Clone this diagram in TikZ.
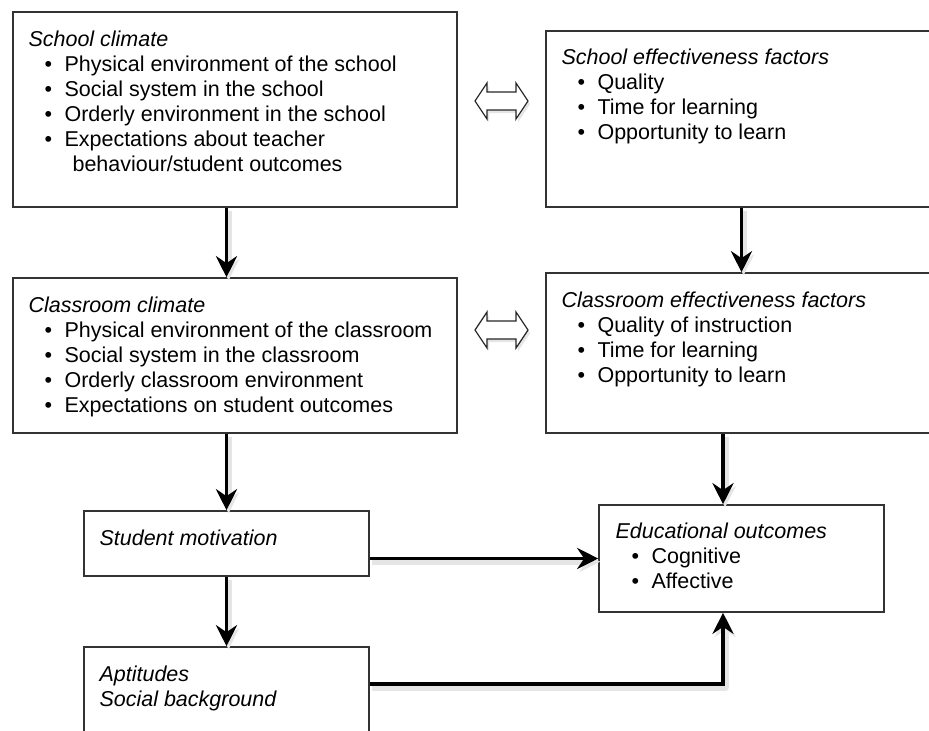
\documentclass[tikz,border=0pt]{standalone}
\usepackage{fontspec}
\setmainfont{Liberation Sans}
\usetikzlibrary{arrows.meta,calc}

%% one unit of the picture is one pixel of the layout
\newlength\px
\setlength\px{0.02cm}
\newcommand\bodyfont{\fontsize{12.23pt}{14.23pt}\selectfont}
\newcommand\ttl[1]{\rule{0pt}{17.2\px}\textit{#1}}
\newcommand\itm[1]{\hspace*{16\px}\makebox[20\px][l]{\textbullet}#1}

\tikzset{
  box/.style={draw=black!80, line width=0.9pt, fill=white},
  txt/.style={anchor=north west, inner sep=0pt, align=left, font=\bodyfont},
  tip/.style={-{Stealth[length=12pt, width=12pt, inset=4pt]}},
  flow/.style={line width=2.1pt, tip,
    preaction={draw=black!10, line width=4pt, line join=round, tip,
      transform canvas={shift={(1.2pt,-1.8pt)}}}},
  dblline/.style={draw=black!85, line width=0.7pt, fill=white, line join=miter,
    preaction={fill=black!10, transform canvas={shift={(1.2pt,-1.8pt)}}}},
  dblarr/.pic={
    \draw[dblline] (-26.5,0) -- (-14.5,-18) -- (-14.5,-9) -- (14.5,-9) -- (14.5,-18)
      -- (26.5,0) -- (14.5,18) -- (14.5,9) -- (-14.5,9) -- (-14.5,18) -- cycle;
  }
}

\begin{document}
\begin{tikzpicture}[x=0.02cm, y=-0.02cm]
    \useasboundingbox (0,0) rectangle (929,730);
    \clip (0,0) rectangle (929,730);

    %% the boxes (the right column and the last box run off the page)
    \node[box, minimum width=444\px, minimum height=195\px] (sclim) at (235,109.5) {};
    \node[box, minimum width=414\px, minimum height=176\px] (seff) at (753,119) {};
    \node[box, minimum width=444\px, minimum height=155\px] (cclim) at (235,355.5) {};
    \node[box, minimum width=414\px, minimum height=160\px] (ceff) at (753,353) {};
    \node[box, minimum width=285\px, minimum height=65\px] (motiv) at (226.5,543.5) {};
    \node[box, minimum width=285\px, minimum height=113\px] (aptit) at (226.5,703.5) {};
    \node[box, minimum width=285\px, minimum height=107\px] (eduout) at (741.5,558.5) {};

    %% texts inside the boxes
    \node[txt] (sclimtxt) at ([shift={(16,17.8)}]sclim.north west) {\ttl{School climate}\\
      \itm{Physical environment of the school}\\
      \itm{Social system in the school}\\
      \itm{Orderly environment in the school}\\
      \itm{Expectations about teacher}\\
      \hspace*{44\px}behaviour/student outcomes};
    \node[txt] (sefftxt) at ([shift={(16,16.8)}]seff.north west) {\ttl{School effectiveness factors}\\
      \itm{Quality}\\
      \itm{Time for learning}\\
      \itm{Opportunity to learn}};
    \node[txt] (cclimtxt) at ([shift={(16,17.8)}]cclim.north west) {\ttl{Classroom climate}\\
      \itm{Physical environment of the classroom}\\
      \itm{Social system in the classroom}\\
      \itm{Orderly classroom environment}\\
      \itm{Expectations on student outcomes}};
    \node[txt] (cefftxt) at ([shift={(16,17.8)}]ceff.north west) {\ttl{Classroom effectiveness factors}\\
      \itm{Quality of instruction}\\
      \itm{Time for learning}\\
      \itm{Opportunity to learn}};
    \node[txt] (motivtxt) at ([shift={(16,17.8)}]motiv.north west) {\ttl{Student motivation}};
    \node[txt] (aptittxt) at ([shift={(16,17.8)}]aptit.north west) {\ttl{Aptitudes}\\
      \textit{Social background}};
    \node[txt] (eduouttxt) at ([shift={(17,16.8)}]eduout.north west) {\ttl{Educational outcomes}\\
      \itm{Cognitive}\\
      \itm{Affective}};

    %% two-way arrows between the columns
    \pic (dbltop) at (501.5,101) {dblarr};
    \pic (dblmid) at (501.5,330) {dblarr};

    %% the flow
    \coordinate (bend) at (723,684);
    \draw[flow] (sclim.south -| motiv) -- (cclim.north -| motiv);
    \draw[flow] (cclim.south -| motiv) -- (motiv.north);
    \draw[flow] (motiv.south) -- (aptit.north);
    \draw[flow] (seff.south -| eduout) -- (ceff.north -| eduout);
    \draw[flow] (ceff.south -| bend) -- (eduout.north -| bend);
    \draw[flow] (motiv.east |- eduout) -- (eduout.west);
    \draw[flow] (aptit.east |- bend) -- (bend) -- (eduout.south -| bend);
\end{tikzpicture}
\end{document}
